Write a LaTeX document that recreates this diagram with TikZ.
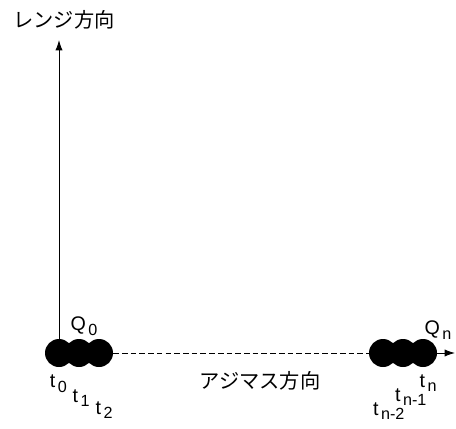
\documentclass[tikz,border=0pt]{standalone}
\usepackage{fontspec}
\setmainfont{Liberation Sans}
\newfontfamily\jpfont{Noto Sans CJK JP}
\usetikzlibrary{arrows.meta,positioning}
\newcommand\lsub[1]{\kern1.8pt\raisebox{-0.45ex}{\fontsize{11.5}{13}\selectfont#1}}
\tikzset{axis/.style={-{Latex[length=2.6mm,width=1.8mm]}, line width=.6pt}, pulse/.style={circle, fill=black, inner sep=0pt, minimum size=.7cm}, lab/.style={font=\fontsize{14}{16}\selectfont, inner sep=0pt}, jlab/.style={font=\jpfont\fontsize{14.4}{17}\selectfont, inner sep=0pt}}

\begin{document}
\begin{tikzpicture}
\useasboundingbox (0,0) rectangle (11.4,10.7);
% pulses at start and end of the aperture
\node[pulse] (p0) at (1.475,1.875) {}; \node[pulse] (p1) at (1.975,1.875) {}; \node[pulse] (p2) at (2.475,1.875) {};
\node[pulse] (pn2) at (9.575,1.875) {}; \node[pulse] (pn1) at (10.075,1.875) {}; \node[pulse] (pn) at (10.575,1.875) {};
% range axis
\coordinate (rtop) at (1.475,9.7); \coordinate (aend) at (11.375,1.875);
\draw[axis] (p0.center) -- (rtop); \node[jlab] (rlab) at (1.6,10.2) {レンジ方向};
% azimuth axis
\draw[dashed, line width=.6pt, dash pattern=on 4pt off 2.2pt] (p2.east) -- (pn2.west); \draw[axis] (pn.east) -- (aend);
\node[jlab] (alab) at (6.5,1.175) {アジマス方向};
% labels
\node[lab] (q0) at (2.1,2.55) {Q\lsub{0}}; \node[lab] (qn) at (10.95,2.45) {Q\lsub{n}};
\node[lab] (t0) at (1.46,1.1) {t\lsub{0}}; \node[lab] (t1) at (2.03,.75) {t\lsub{1}}; \node[lab] (t2) at (2.6,.45) {t\lsub{2}};
\node[lab] (tn) at (10.7,1.125) {t\lsub{n}}; \node[lab] (tn1) at (10.27,.775) {t\lsub{n-1}}; \node[lab] (tn2) at (9.72,.425) {t\lsub{n-2}};
\end{tikzpicture}
\end{document}
